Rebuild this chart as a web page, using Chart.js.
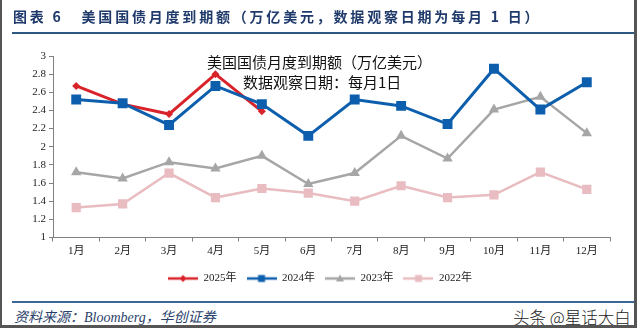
<!DOCTYPE html>
<html>
<head>
<meta charset="utf-8">
<script src="https://cdn.jsdelivr.net/npm/chart.js@4.4.1/dist/chart.umd.min.js"></script>
<style>
  html, body { margin: 0; padding: 0; background: #fff; }
  #page { position: relative; width: 640px; height: 331px; overflow: hidden; background: #fff; }
  #chart-box { position: absolute; left: 0; top: 0; width: 640px; height: 294px; }
  .frame-l { position: absolute; left: 0; top: 0; width: 2px; height: 328px; background: #555; }
  .frame-r { position: absolute; left: 634px; top: 0; width: 3px; height: 328px; background: #555; }
  .frame-b { position: absolute; left: 0; top: 325px; width: 637px; height: 3px; background: #555; }
  .title-line { position: absolute; left: 12px; top: 32px; width: 623px; height: 2px; background: #2f5783; }
  .source-line { position: absolute; left: 12px; top: 301px; width: 623px; height: 2px; background: #3b679a; }
  .title { position: absolute; left: 13px; top: 6px; font: bold 14px 'Noto Sans CJK SC', sans-serif; color: #1f3a6b; letter-spacing: 2.8px; white-space: nowrap; }
  .source { position: absolute; left: 14px; top: 306px; font: italic 14px 'Noto Sans CJK SC', sans-serif; color: #2b3f6b; white-space: nowrap; }
  .source i { font-family: 'Liberation Serif', serif; }
  .mark { position: absolute; left: 513px; top: 305px; font: 300 16.5px 'Noto Sans CJK SC', sans-serif; color: #222; white-space: nowrap; }
  .note { position: absolute; font: 15px 'Noto Sans CJK SC', sans-serif; color: #111; white-space: nowrap; }
</style>
</head>
<body>
<div id="page">
  <div id="chart-box"><canvas id="maturity-chart"></canvas></div>
  <div class="title">图表 6&nbsp;&nbsp;&nbsp;美国国债月度到期额（万亿美元，数据观察日期为每月 1 日）</div>
  <div class="title-line"></div>
  <div class="note" style="left:207px; top:51px;">美国国债月度到期额（万亿美元）</div>
  <div class="note" style="left:243px; top:71px;">数据观察日期：每月1日</div>
  <div class="source-line"></div>
  <div class="source">资料来源：<i>Bloomberg</i>，华创证券</div>
  <div class="mark">头条 @星话大白</div>
  <div class="frame-l"></div>
  <div class="frame-r"></div>
  <div class="frame-b"></div>
</div>
<script>
// months on the x axis
const months = ['1月', '2月', '3月', '4月', '5月', '6月', '7月', '8月', '9月', '10月', '11月', '12月'];

// trillion USD maturing
const values2025 = [2.67, 2.47, 2.36, 2.80, 2.39];
const values2024 = [2.52, 2.48, 2.24, 2.67, 2.47, 2.12, 2.52, 2.45, 2.25, 2.86, 2.41, 2.71];
const values2023 = [1.72, 1.65, 1.83, 1.76, 1.90, 1.59, 1.71, 2.12, 1.87, 2.41, 2.55, 2.15];
const values2022 = [1.33, 1.37, 1.71, 1.44, 1.54, 1.49, 1.40, 1.57, 1.44, 1.47, 1.72, 1.53];

const seriesLabels = ['2025年', '2024年', '2023年', '2022年'];

const COLORS = {
  red: '#d9232a',
  blue: '#0d5fae',
  gray: '#a6a6a6',
  pink: '#e8bcc0'
};

// small line + marker swatch for the legend
function makeSwatch(color, style) {
  const c = document.createElement('canvas');
  c.width = 30;
  c.height = 10;
  const ctx = c.getContext('2d');
  ctx.strokeStyle = color;
  ctx.fillStyle = color;
  ctx.lineWidth = 2.5;
  ctx.beginPath();
  ctx.moveTo(0, 5);
  ctx.lineTo(30, 5);
  ctx.stroke();
  ctx.beginPath();
  if (style === 'rectRot') {
    ctx.moveTo(15, 1.5); ctx.lineTo(18.5, 5); ctx.lineTo(15, 8.5); ctx.lineTo(11.5, 5);
  } else if (style === 'triangle') {
    ctx.moveTo(15, 1); ctx.lineTo(19, 8); ctx.lineTo(11, 8);
  } else {
    ctx.rect(11.5, 1.5, 7, 7);
  }
  ctx.closePath();
  ctx.fill();
  return c;
}

function buildDataset(label, data, color, pointStyle, radius, width, order) {
  return {
    label: label,
    data: data,
    borderColor: color,
    backgroundColor: color,
    pointBackgroundColor: color,
    pointBorderColor: color,
    pointBorderWidth: 0,
    pointStyle: pointStyle,
    pointRadius: radius,
    borderWidth: width,
    tension: 0,
    order: order,
    swatch: makeSwatch(color, pointStyle)
  };
}

const datasets = [
  buildDataset(seriesLabels[0], values2025, COLORS.red, 'rectRot', 4, 3, 1),
  buildDataset(seriesLabels[1], values2024, COLORS.blue, 'rect', 7, 3, 0),
  buildDataset(seriesLabels[2], values2023, COLORS.gray, 'triangle', 6, 2.5, 2),
  buildDataset(seriesLabels[3], values2022, COLORS.pink, 'rect', 6.5, 2.5, 3)
];

const tickFont = { family: "'Liberation Serif', 'Noto Sans CJK SC', serif", size: 11 };

new Chart(document.getElementById('maturity-chart'), {
  type: 'line',
  data: { labels: months, datasets: datasets },
  options: {
    responsive: true,
    maintainAspectRatio: false,
    animation: false,
    layout: { padding: { left: 30, right: 30, top: 56, bottom: 0 } },
    scales: {
      x: {
        offset: true,
        grid: { display: true, offset: true, drawOnChartArea: false, drawTicks: true, tickLength: 4, color: '#808080' },
        border: { display: true, color: '#808080', width: 1 },
        ticks: { font: tickFont, color: '#222', padding: 3, maxRotation: 0 },
        afterFit: function(scale) { scale.height = 25.5; }
      },
      y: {
        min: 1,
        max: 3,
        grid: { display: true, drawOnChartArea: false, drawTicks: true, tickLength: 4, color: '#808080' },
        border: { display: true, color: '#808080', width: 1 },
        ticks: {
          stepSize: 0.2,
          font: tickFont,
          color: '#222',
          padding: 3,
          callback: function(value) { return String(Math.round(value * 10) / 10); }
        },
        afterFit: function(scale) { scale.width = 23; }
      }
    },
    plugins: {
      tooltip: { enabled: false },
      legend: {
        position: 'bottom',
        labels: {
          usePointStyle: true,
          pointStyleWidth: 30,
          padding: 10,
          color: '#222',
          font: { family: "'Liberation Serif', 'Noto Sans CJK SC', serif", size: 11 },
          generateLabels: function(chart) {
            return chart.data.datasets.map(function(ds, i) {
              return {
                text: ds.label,
                pointStyle: ds.swatch,
                fillStyle: ds.borderColor,
                strokeStyle: ds.borderColor,
                lineWidth: 0,
                fontColor: '#222',
                datasetIndex: i,
                hidden: false
              };
            });
          }
        }
      }
    }
  }
});
</script>
</body>
</html>
